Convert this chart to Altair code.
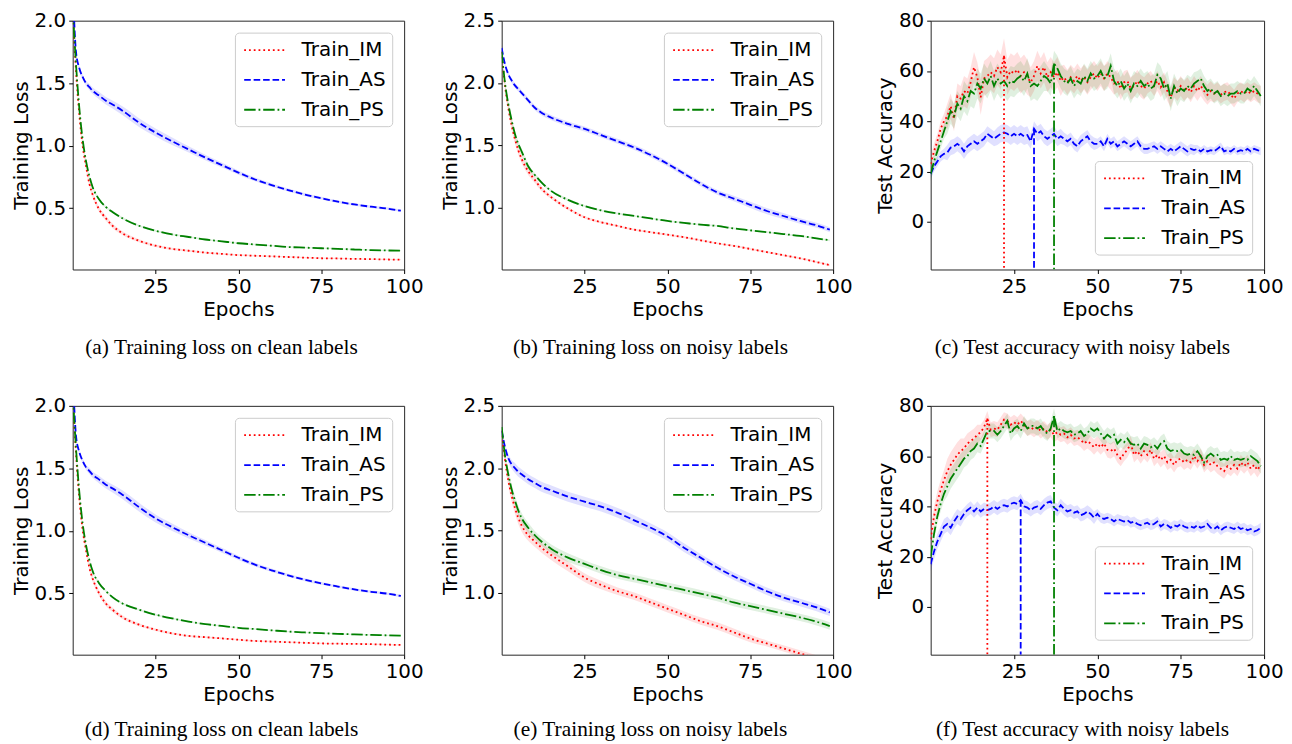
import altair as alt
import pandas as pd

SERIES = ["Train_IM", "Train_AS", "Train_PS"]
COLORS = ["#ff0000", "#0000ff", "#008000"]
DASHES = [[1.8, 3.0], [6.6, 2.9], [11.5, 2.9, 1.8, 2.9]]

EPOCHS_SMOOTH = [0, 1, 2, 3, 4, 5, 6, 8, 10, 12, 15, 20, 25, 30, 35, 40, 45, 50,
                 55, 60, 65, 70, 75, 80, 85, 90, 95, 99]
EPOCHS_ACC = list(range(100))

X_TICKS = [25, 50, 75, 100]
LOSS_TICKS_CLEAN = [0.5, 1.0, 1.5, 2.0]
LOSS_TICKS_NOISY = [1.0, 1.5, 2.0, 2.5]
ACC_TICKS = [0, 20, 40, 60, 80]

CAPTIONS = [
    "(a) Training loss on clean labels",
    "(b) Training loss on noisy labels",
    "(c) Test accuracy with noisy labels",
    "(d) Training loss on clean labels",
    "(e) Training loss on noisy labels",
    "(f) Test accuracy with noisy labels",
]

# ---------------- (a) training loss, clean labels ----------------
A_IM = [2.10, 1.60, 1.25, 1.00, 0.84, 0.70, 0.61, 0.49, 0.42, 0.36, 0.30, 0.24, 0.20, 0.175,
        0.16, 0.145, 0.135, 0.125, 0.12, 0.115, 0.11, 0.105, 0.10, 0.098, 0.095, 0.093, 0.09, 0.088]
A_AS = [2.30, 1.75, 1.62, 1.55, 1.50, 1.47, 1.44, 1.40, 1.36, 1.33, 1.28, 1.185, 1.105, 1.035,
        0.97, 0.905, 0.845, 0.785, 0.73, 0.685, 0.645, 0.61, 0.58, 0.552, 0.53, 0.512, 0.497, 0.48]
A_PS = [2.10, 1.65, 1.30, 1.05, 0.88, 0.76, 0.67, 0.57, 0.51, 0.47, 0.42, 0.36, 0.32, 0.29,
        0.27, 0.25, 0.235, 0.22, 0.21, 0.20, 0.19, 0.185, 0.18, 0.175, 0.17, 0.165, 0.162, 0.16]
A_IM_SD = [0.02, 0.03, 0.03, 0.03, 0.03, 0.025, 0.025, 0.02, 0.02, 0.018, 0.015, 0.012, 0.01, 0.009,
           0.008, 0.007, 0.007, 0.006, 0.006, 0.006, 0.005, 0.005, 0.005, 0.005, 0.005, 0.005, 0.005, 0.005]
A_AS_SD = [0.02, 0.02, 0.02, 0.02, 0.02, 0.025, 0.025, 0.03, 0.03, 0.032, 0.035, 0.035, 0.032, 0.03,
           0.025, 0.022, 0.02, 0.017, 0.015, 0.014, 0.012, 0.012, 0.011, 0.01, 0.01, 0.01, 0.01, 0.01]
A_PS_SD = [0.02, 0.02, 0.02, 0.02, 0.018, 0.016, 0.015, 0.012, 0.01, 0.01, 0.009, 0.008, 0.008, 0.007,
           0.007, 0.006, 0.006, 0.006, 0.006, 0.005, 0.005, 0.005, 0.005, 0.005, 0.005, 0.005, 0.005, 0.005]

# ---------------- (b) training loss, noisy labels ----------------
B_IM = [2.25, 1.98, 1.80, 1.66, 1.55, 1.46, 1.39, 1.29, 1.22, 1.15, 1.08, 0.99, 0.92, 0.88,
        0.85, 0.82, 0.80, 0.78, 0.76, 0.735, 0.71, 0.69, 0.665, 0.64, 0.615, 0.59, 0.56, 0.535]
B_AS = [2.28, 2.15, 2.07, 2.02, 1.98, 1.95, 1.92, 1.86, 1.80, 1.76, 1.72, 1.67, 1.63, 1.58,
        1.53, 1.48, 1.42, 1.35, 1.27, 1.19, 1.12, 1.07, 1.02, 0.97, 0.93, 0.89, 0.855, 0.82]
B_PS = [2.25, 2.00, 1.83, 1.70, 1.59, 1.51, 1.45, 1.33, 1.26, 1.20, 1.13, 1.06, 1.01, 0.975,
        0.95, 0.93, 0.91, 0.89, 0.875, 0.86, 0.85, 0.83, 0.815, 0.80, 0.785, 0.77, 0.75, 0.735]
B_IM_SD = [0.03, 0.035, 0.04, 0.04, 0.04, 0.035, 0.035, 0.03, 0.025, 0.02, 0.015, 0.012, 0.01, 0.01,
           0.008, 0.008, 0.008, 0.008, 0.008, 0.008, 0.008, 0.008, 0.008, 0.008, 0.008, 0.008, 0.008, 0.008]
B_AS_SD = [0.03, 0.02, 0.02, 0.02, 0.02, 0.02, 0.02, 0.02, 0.02, 0.02, 0.02, 0.02, 0.02, 0.02,
           0.02, 0.02, 0.02, 0.02, 0.02, 0.02, 0.02, 0.022, 0.025, 0.025, 0.025, 0.022, 0.02, 0.02]
B_PS_SD = [0.03, 0.03, 0.03, 0.03, 0.03, 0.025, 0.025, 0.02, 0.015, 0.012, 0.01, 0.01, 0.008, 0.008,
           0.008, 0.007, 0.007, 0.007, 0.007, 0.007, 0.007, 0.007, 0.007, 0.007, 0.007, 0.007, 0.007, 0.007]

# ---------------- (c) test accuracy, noisy labels ----------------
C_IM = [23, 28, 32, 37, 40, 42, 46, 41, 50, 49,
        52, 51, 55.5, 61.5, 57.5, 49.5, 57, 58, 59.5, 58,
        61.5, 59.5, 66, 57.5, 60, 59, 60.5, 58, 59.5, 57.5,
        55.5, 58, 62, 59, 61.5, 57.5, 59.5, 57.5, 59.5, 56,
        57.5, 55.5, 57.5, 56, 58, 56, 57.5, 55.5, 57.5, 59,
        57, 59, 57, 59, 57.5, 55, 56, 53, 55.5, 56,
        53, 54, 56, 54, 53, 55, 56, 54, 56, 53.5,
        55.5, 52, 49.5, 53.5, 52, 54, 52, 53.5, 51.5, 54,
        52, 54, 52, 50.5, 52, 51, 52, 50.5, 51.5, 52,
        50.5, 49, 51, 52, 51, 52, 51, 52, 51, 50.5]
C_AS = [19, 22, 24, 26, 27, 27.5, 29.5, 30, 31, 30,
        28, 30, 31, 32, 31, 32, 33, 35, 34, 33,
        34, 35, 35.5, 35, 34, 35, 34, 35, 34, 34.5,
        32, 37, 35, 36, 34, 33, 34, 35, 33, 34,
        33, 32, 33, 31, 30, 32, 33, 34, 32, 31,
        31, 32, 30, 33, 31, 32, 30, 31, 32, 31,
        30, 31, 32, 30, 29, 29, 29.5, 30, 29, 30,
        29, 28, 29, 28, 29, 30, 29, 28, 29, 28.5,
        29, 28, 29, 28, 28.5, 28, 29, 30, 28, 28.5,
        28, 29, 28, 28.5, 28, 29, 28, 29, 28.5, 28]
C_PS = [19, 24, 28, 32, 36, 40, 44, 42, 47, 45,
        50, 48, 52, 51, 55, 53, 57, 55, 58, 54,
        57, 55, 56, 54, 56, 55.5, 57, 58, 56, 59,
        54, 55, 54, 56, 58, 57, 55, 63, 61, 58,
        56, 55, 57, 54, 56, 55, 58, 56, 59, 57,
        58, 60, 57, 58, 62, 56, 54, 56, 53, 55,
        52, 55, 54, 56, 54, 55, 53, 54, 58.5, 57,
        53, 55, 49, 54, 51, 53, 52, 54, 53, 55,
        56, 57, 54, 52, 53, 51, 52, 50, 51, 50,
        51, 51, 52, 51, 51, 53, 52, 54, 52, 50]
# half-width of the shaded band, one value per block of 5 epochs
C_IM_SD = [3, 5, 6, 7, 7, 7, 6, 6, 5, 5, 5, 4.5, 4.5, 4, 4, 4, 4, 3.5, 3.5, 3.5]
C_AS_SD = [2, 3, 3, 3, 3.5, 3.5, 3, 3, 2.5, 2.5, 2, 2, 2, 2, 2, 2, 1.5, 1.5, 1.5, 1.5]
C_PS_SD = [3, 5, 6, 6, 6, 6, 6, 5, 5, 5, 5, 5, 5, 5, 5, 4.5, 4, 4, 4, 4]

# ---------------- (d) training loss, clean labels ----------------
D_IM = [2.10, 1.62, 1.26, 1.01, 0.85, 0.71, 0.62, 0.50, 0.42, 0.37, 0.31, 0.25, 0.21, 0.18,
        0.16, 0.15, 0.14, 0.13, 0.12, 0.115, 0.11, 0.105, 0.10, 0.098, 0.096, 0.094, 0.09, 0.088]
D_AS = [2.30, 1.76, 1.63, 1.56, 1.51, 1.48, 1.45, 1.41, 1.37, 1.34, 1.29, 1.19, 1.10, 1.03,
        0.965, 0.905, 0.845, 0.785, 0.73, 0.685, 0.645, 0.61, 0.58, 0.555, 0.532, 0.513, 0.498, 0.48]
D_PS = [2.10, 1.66, 1.31, 1.06, 0.89, 0.77, 0.68, 0.58, 0.52, 0.47, 0.42, 0.37, 0.33, 0.30,
        0.275, 0.255, 0.24, 0.225, 0.215, 0.205, 0.195, 0.188, 0.182, 0.177, 0.172, 0.168, 0.165, 0.162]
D_IM_SD = [0.02, 0.03, 0.03, 0.03, 0.03, 0.025, 0.025, 0.022, 0.02, 0.018, 0.015, 0.012, 0.01, 0.009,
           0.008, 0.007, 0.007, 0.006, 0.006, 0.006, 0.005, 0.005, 0.005, 0.005, 0.005, 0.005, 0.005, 0.005]
D_AS_SD = [0.02, 0.02, 0.02, 0.02, 0.02, 0.025, 0.025, 0.03, 0.03, 0.032, 0.035, 0.035, 0.032, 0.03,
           0.025, 0.022, 0.02, 0.017, 0.015, 0.014, 0.012, 0.012, 0.011, 0.01, 0.01, 0.01, 0.01, 0.01]
D_PS_SD = [0.02, 0.02, 0.02, 0.02, 0.018, 0.016, 0.015, 0.012, 0.01, 0.01, 0.009, 0.008, 0.008, 0.007,
           0.007, 0.006, 0.006, 0.006, 0.006, 0.005, 0.005, 0.005, 0.005, 0.005, 0.005, 0.005, 0.005, 0.005]

# ---------------- (e) training loss, noisy labels ----------------
E_IM = [2.30, 2.07, 1.90, 1.78, 1.68, 1.60, 1.54, 1.46, 1.41, 1.36, 1.30, 1.21, 1.12, 1.06,
        1.01, 0.97, 0.92, 0.87, 0.82, 0.77, 0.73, 0.68, 0.63, 0.59, 0.55, 0.51, 0.47, 0.44]
E_AS = [2.30, 2.17, 2.08, 2.03, 2.00, 1.97, 1.95, 1.91, 1.88, 1.85, 1.82, 1.77, 1.73, 1.69,
        1.64, 1.58, 1.52, 1.45, 1.36, 1.28, 1.20, 1.13, 1.07, 1.01, 0.96, 0.92, 0.88, 0.84]
E_PS = [2.33, 2.10, 1.95, 1.83, 1.74, 1.66, 1.60, 1.52, 1.46, 1.41, 1.35, 1.28, 1.23, 1.18,
        1.14, 1.11, 1.08, 1.05, 1.02, 0.99, 0.96, 0.92, 0.89, 0.86, 0.83, 0.80, 0.765, 0.73]
E_IM_SD = [0.05, 0.05, 0.05, 0.05, 0.05, 0.05, 0.05, 0.045, 0.045, 0.04, 0.04, 0.04, 0.035, 0.035,
           0.03, 0.03, 0.03, 0.03, 0.03, 0.03, 0.03, 0.03, 0.03, 0.025, 0.025, 0.025, 0.025, 0.025]
E_AS_SD = [0.03, 0.03, 0.035, 0.035, 0.04, 0.04, 0.04, 0.04, 0.04, 0.04, 0.04, 0.04, 0.04, 0.04,
           0.04, 0.04, 0.035, 0.035, 0.035, 0.03, 0.03, 0.03, 0.03, 0.03, 0.03, 0.03, 0.03, 0.03]
E_PS_SD = [0.04, 0.04, 0.04, 0.04, 0.04, 0.04, 0.04, 0.04, 0.035, 0.035, 0.035, 0.035, 0.03, 0.03,
           0.03, 0.03, 0.03, 0.03, 0.03, 0.03, 0.03, 0.03, 0.03, 0.03, 0.03, 0.03, 0.03, 0.03]

# ---------------- (f) test accuracy, noisy labels ----------------
F_IM = [27, 36, 42, 46.5, 50.5, 54, 56.5, 58.5, 60.5, 62,
        63, 65, 66, 67, 68.5, 69.5, 71.5, 75, 70.5, 71,
        70.5, 72.5, 74.5, 74, 72.5, 73.5, 72.5, 74, 72.5, 71,
        71.5, 70.5, 71.5, 70, 71, 69.5, 70.5, 68.5, 69.5, 68.5,
        69, 67.5, 68.5, 67, 67.5, 66.5, 65, 66, 65, 63.5,
        65, 63.5, 65, 62.5, 62, 63, 60.5, 59, 61, 62.5,
        65, 60.5, 62, 60, 62, 60.5, 62.5, 59, 60.5, 58.5,
        60, 57.5, 58.5, 56.5, 58.5, 59, 57.5, 58.5, 57.5, 60,
        58, 60, 56.5, 58, 56.5, 57.5, 56, 55, 54, 56,
        55, 56.5, 55, 57.5, 56, 57.5, 55, 56.5, 54.5, 56.5]
F_AS = [17, 22, 26, 29, 32, 33, 31.5, 34, 36, 35,
        37, 38.5, 39.5, 38, 39.5, 38, 39, 38.5, 39, 40,
        39, 40, 40.5, 40, 41, 41.5, 41, 42.5, 40, 39.5,
        38.5, 39.5, 40, 39, 40.5, 41.5, 42, 39.5, 38.5, 40.5,
        39, 38, 38.5, 37.5, 38, 36.5, 37, 38, 37, 35.5,
        37, 35.5, 35, 35.5, 35, 34, 35, 34.5, 34, 34.5,
        33.5, 34, 33, 32.5, 33, 33.5, 32.5, 33, 34, 32,
        33, 32.5, 31.5, 32.5, 32, 33, 32, 31.5, 32, 31.5,
        32.5, 31.5, 32, 33, 31.5, 31, 32, 30.5, 31.5, 32,
        31.5, 31, 32, 31, 31.5, 30.5, 31, 30, 30.5, 31.5]
F_PS = [20, 29, 36, 41, 45, 48, 51, 53, 55, 57,
        59, 60, 62, 63, 65, 64, 67, 70, 70, 70,
        68.5, 70, 72, 74, 69, 71, 72, 70, 73, 71,
        72, 72, 71, 72, 70, 69, 71, 76, 70, 71,
        70, 69.5, 70, 68.5, 69, 70, 68, 69, 71, 70,
        71, 69, 67, 68.5, 67.5, 68.5, 65, 66.5, 65.5, 67,
        65, 64.5, 65, 63, 65, 64.5, 63.5, 64.5, 63, 65,
        66, 63, 62, 62.5, 62, 62.5, 61, 60.5, 61, 60.5,
        62, 60, 57.5, 60, 61, 60, 60.5, 58.5, 59, 58.5,
        60, 58.5, 59, 58.5, 59, 58.5, 60, 59, 58, 56]
F_IM_SD = [4, 5, 4, 3, 3, 3, 3, 3, 3, 3, 3, 3, 3, 3, 3, 3, 3, 3, 3, 3]
F_AS_SD = [3, 3, 2.5, 2.5, 2.5, 2.5, 2.5, 2.5, 2.5, 2.5, 2, 2, 2, 2, 2, 2, 2, 2, 2, 2]
F_PS_SD = [3, 4, 3.5, 3, 3, 3, 3, 3, 3, 3, 3, 3, 3, 3, 3, 3, 3, 3, 3, 3]


def smooth_table(vals, sds):
    rows = []
    for name, v, sd in zip(SERIES, vals, sds):
        for e, y, d in zip(EPOCHS_SMOOTH, v, sd):
            rows.append(dict(epoch=e, series=name, value=y, lo=y - d, hi=y + d))
    return pd.DataFrame(rows)


def acc_table(vals, sds):
    rows = []
    for name, v, sd in zip(SERIES, vals, sds):
        for e, y in zip(EPOCHS_ACC, v):
            d = sd[e // 5]
            rows.append(dict(epoch=e, series=name, value=y, lo=y - d, hi=y + d))
    return pd.DataFrame(rows)


W, H = 333, 250
W_ACC = 335


def panel(df, ydom, yticks, yfmt, ytitle, caption, legxy, interp, width,
          best=False, cap_offset=18, cap_dx=-17):
    xenc = alt.X("epoch:Q", scale=alt.Scale(domain=[0, 100], nice=False, zero=False),
                 axis=alt.Axis(values=X_TICKS, title="Epochs"))
    yscale = alt.Scale(domain=ydom, nice=False, zero=False)
    yaxis = alt.Axis(values=yticks, format=yfmt, title=ytitle)
    cscale = alt.Scale(domain=SERIES, range=COLORS)
    dscale = alt.Scale(domain=SERIES, range=DASHES)
    legend = alt.Legend(
        title=None, orient="none", legendX=legxy[0], legendY=legxy[1],
        symbolType="M-0.8,0H3.2", symbolSize=420, symbolStrokeWidth=1.8,
        labelFont="DejaVu Sans", labelFontSize=20, labelColor="black",
        labelOffset=38, padding=6, rowPadding=8,
        strokeColor="#cccccc", fillColor="rgba(255,255,255,0.85)", cornerRadius=4,
    )
    base = alt.Chart(df)
    band = base.mark_area(clip=True, opacity=0.12, interpolate=interp).encode(
        x=xenc,
        y=alt.Y("lo:Q", scale=yscale, axis=yaxis),
        y2="hi:Q",
        color=alt.Color("series:N", scale=cscale, legend=None),
    )
    line = base.mark_line(clip=True, strokeWidth=1.8, interpolate=interp).encode(
        x=xenc,
        y=alt.Y("value:Q", scale=yscale, axis=yaxis),
        color=alt.Color("series:N", scale=cscale, legend=legend),
        strokeDash=alt.StrokeDash("series:N", scale=dscale, legend=legend),
    )
    layers = [band, line]
    if best:
        top = df.loc[df.groupby("series")["value"].idxmax()]
        rules = alt.Chart(top).mark_rule(clip=True, strokeWidth=1.8).encode(
            x=alt.X("epoch:Q"),
            y=alt.Y("value:Q", scale=yscale),
            y2=alt.datum(ydom[0]),
            color=alt.Color("series:N", scale=cscale, legend=None),
            strokeDash=alt.StrokeDash("series:N", scale=dscale, legend=None),
        )
        layers.append(rules)
    return alt.layer(*layers).resolve_legend(
        color="independent", strokeDash="independent"
    ).properties(
        width=width, height=H,
        title=alt.TitleParams(caption, orient="bottom", anchor="middle", dx=cap_dx,
                              font="Liberation Serif", fontSize=21.5,
                              fontWeight="normal", color="black", offset=cap_offset),
    )


pa = panel(smooth_table([A_IM, A_AS, A_PS], [A_IM_SD, A_AS_SD, A_PS_SD]), [0.01, 2.0],
           LOSS_TICKS_CLEAN, ".1f", "Training Loss", CAPTIONS[0], (163, 12), "monotone", W)
pb = panel(smooth_table([B_IM, B_AS, B_PS], [B_IM_SD, B_AS_SD, B_PS_SD]), [0.5, 2.5],
           LOSS_TICKS_NOISY, ".1f", "Training Loss", CAPTIONS[1], (163, 12), "monotone", W)
pc = panel(acc_table([C_IM, C_AS, C_PS], [C_IM_SD, C_AS_SD, C_PS_SD]), [-19, 80],
           ACC_TICKS, "d", "Test Accuracy", CAPTIONS[2], (165, 141), "linear", W_ACC, best=True,
           cap_dx=-15)
pd_ = panel(smooth_table([D_IM, D_AS, D_PS], [D_IM_SD, D_AS_SD, D_PS_SD]), [0.01, 2.0],
            LOSS_TICKS_CLEAN, ".1f", "Training Loss", CAPTIONS[3], (163, 12), "monotone", W,
            cap_offset=15)
pe = panel(smooth_table([E_IM, E_AS, E_PS], [E_IM_SD, E_AS_SD, E_PS_SD]), [0.5, 2.5],
           LOSS_TICKS_NOISY, ".1f", "Training Loss", CAPTIONS[4], (163, 12), "monotone", W,
           cap_offset=15)
pf = panel(acc_table([F_IM, F_AS, F_PS], [F_IM_SD, F_AS_SD, F_PS_SD]), [-19, 80],
           ACC_TICKS, "d", "Test Accuracy", CAPTIONS[5], (165, 141), "linear", W_ACC, best=True,
           cap_offset=15, cap_dx=-15)

chart = alt.concat(
    pa, pb, pc, pd_, pe, pf, columns=3,
    spacing={"row": 137, "column": 98}, bounds="flush", align="each",
).properties(
    padding={"left": 2, "top": 0, "right": 0, "bottom": 0},
).configure_view(
    stroke="#262626", strokeWidth=1,
).configure_axis(
    labelFont="DejaVu Sans", labelFontSize=20, labelColor="black",
    titleFont="DejaVu Sans", titleFontSize=20, titleFontWeight="normal", titleColor="black",
    tickColor="black", tickSize=4, tickWidth=1, domain=False, grid=False,
    labelPadding=3, labelFlush=False, labelOverlap=False, titlePadding=3,
)

chart.save("out.html", embed_options={"renderer": "svg", "actions": False})
